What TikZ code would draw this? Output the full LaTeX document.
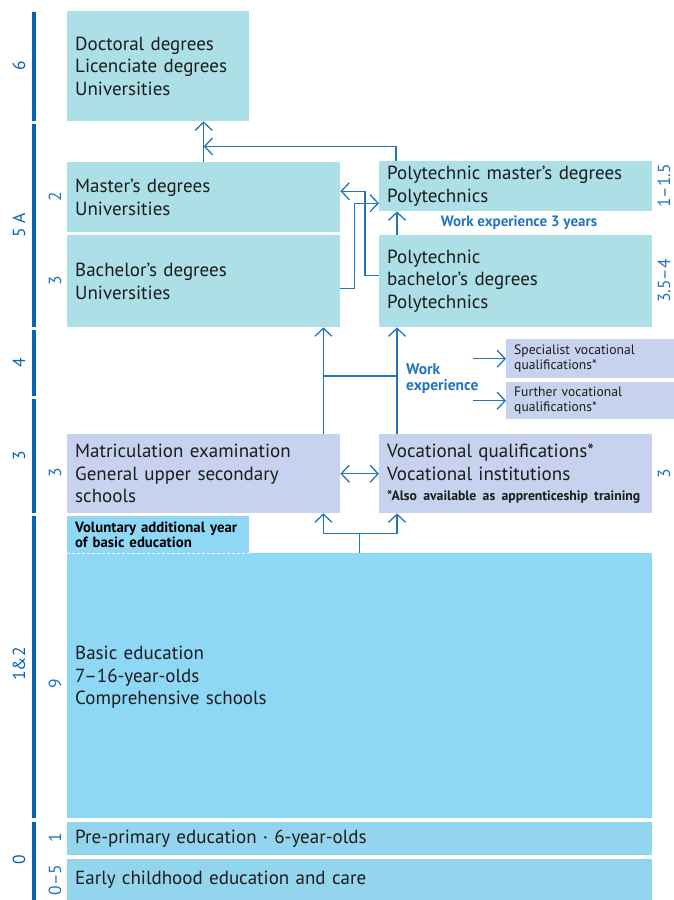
\documentclass[tikz,border=0pt]{standalone}
\usepackage{fontspec}
\setmainfont{PT Sans}
\usepackage{xcolor}
\usetikzlibrary{positioning,arrows.meta}

\definecolor{unicol}{HTML}{ADDFE6}
\definecolor{gencol}{HTML}{C7D2EE}
\definecolor{basiccol}{HTML}{8ED8F6}
\definecolor{earlycol}{HTML}{93D5EC}
\definecolor{linecol}{HTML}{2473BD}
\definecolor{barcol}{HTML}{0B63B0}
\definecolor{txtcol}{HTML}{1C1C1C}

\tikzset{
  box/.style={anchor=north west, inner xsep=8pt, inner ysep=0pt, align=left,
    text=txtcol, font=\fontsize{19}{22.5}\selectfont},
  smallbox/.style={box, fill=gencol, font=\fontsize{13.6}{14.5}\selectfont},
  lvl/.style={rotate=90, inner sep=0pt, text=barcol, font=\fontsize{17.5}{20}\selectfont},
  dur/.style={rotate=90, inner sep=0pt, text=linecol, font=\fontsize{17.5}{20}\selectfont},
  note/.style={text=linecol, align=left, font=\fontsize{15}{16}\selectfont\bfseries},
  link/.style={draw=linecol, line width=1.3pt},
  arr/.style={link, -{Straight Barb[length=8pt,width=17pt]}},
  arrtwo/.style={link, {Straight Barb[length=8pt,width=17pt]}-{Straight Barb[length=8pt,width=17pt]}}
}

\begin{document}
\begin{tikzpicture}[x=1pt, y=-1pt]
        \useasboundingbox (0,0) rectangle (674,900);

        % level bars
        \fill[barcol] (32,12) rectangle (36,121);
        \fill[barcol] (32,124) rectangle (36,327);
        \fill[barcol] (32,330) rectangle (36,396);
        \fill[barcol] (32,399) rectangle (36,513);
        \fill[barcol] (32,516) rectangle (36,818);
        \fill[barcol] (32,822) rectangle (36,900);

        \node [lvl] (lvlsix) at (19,66) {6};
        \node [lvl] (lvlfive) at (19,225) {5 A};
        \node [lvl] (lvlfour) at (19,363) {4};
        \node [lvl] (lvlthree) at (19,456) {3};
        \node [lvl] (lvlone) at (19,664) {1\&2};
        \node [lvl] (lvlzero) at (19,860) {0};

        % boxes
        \node [box, fill=unicol, text width=166pt, minimum height=110pt] (doctoral) at (67,11) {Doctoral degrees\\Licenciate degrees\\Universities};
        \node [box, fill=unicol, text width=257pt, minimum height=70pt] (master) at (67,162) {Master’s degrees\\Universities};
        \node [box, fill=unicol, text width=257pt, minimum height=92pt] (bachelor) at (67,235) {Bachelor’s degrees\\Universities};
        \node [box, fill=unicol, text width=257pt, minimum height=50pt] (pmaster) at (379,161) {Polytechnic master’s degrees\\Polytechnics};
        \node [box, fill=unicol, text width=257pt, minimum height=92pt] (pbachelor) at (379,235) {Polytechnic\\bachelor’s degrees\\Polytechnics};
        \node [smallbox, text width=152pt, minimum height=39pt] (spec) at (506,339) {Specialist vocational\\qualifications*};
        \node [smallbox, text width=152pt, minimum height=37pt] (further) at (506,382) {Further vocational\\qualifications*};
        \node [box, fill=gencol, text width=257pt, minimum height=79pt] (matric) at (67,434) {Matriculation examination\\General upper secondary\\schools};
        \node [box, fill=gencol, text width=257pt, minimum height=79pt] (voc) at (379,434) {Vocational qualifications*\\Vocational institutions\\[-2pt]{\fontsize{13.7}{14}\selectfont\bfseries *Also available as apprenticeship training}};
        \node [box, fill=basiccol, text width=569pt, minimum height=265pt] (basic) at (67,553) {Basic education\\7–16-year-olds\\Comprehensive schools\\[-2.5pt]\mbox{}};
        \node [box, fill=basiccol, text width=166pt, minimum height=37pt, font=\fontsize{14.8}{14.5}\selectfont\bfseries, text=black] (voluntary) at (67,516) {Voluntary additional year\\of basic education};
        \draw [white, line width=1pt, dash pattern=on 3pt off 2pt] (voluntary.south west) -- (voluntary.south east);
        \node [box, fill=earlycol, text width=569pt, minimum height=33pt] (preprimary) at (67,822) {Pre-primary education · 6-year-olds};
        \node [box, fill=earlycol, text width=569pt, minimum height=41pt] (early) at (67,859) {Early childhood education and care};

        % durations
        \node [dur] (durmaster) at (55,197) {2};
        \node [dur] (durbachelor) at (55,281) {3};
        \node [dur] (durmatric) at (55,473) {3};
        \node [dur] (durbasic) at (55,684) {9};
        \node [dur] (durpre) at (55,838) {1};
        \node [dur] (durearly) at (55,880) {0–5};
        \node [dur] (durpmaster) at (664,186) {1–1.5};
        \node [dur] (durpbachelor) at (664,281) {3.5–4};
        \node [dur] (durvoc) at (664,474) {3};

        \node [note] (workthree) at (519,223) {Work experience 3 years};
        \node [note, anchor=west, inner sep=0pt, font=\fontsize{15.5}{16}\selectfont\bfseries] (work) at (406,379) {Work\\experience};

        % connectors
        \draw [arr] (master.north) -- (master.north |- doctoral.south);
        \draw [arr] ([xshift=17pt]pmaster.north west) |- ([yshift=-25pt]doctoral.south -| master.north);
        \draw [arr] ([xshift=18pt]pbachelor.north west) -- ([xshift=18pt]pmaster.south west);
        \draw [arr] ([yshift=-7pt]bachelor.east) -- ++(14,0) |- ([yshift=-17pt]pmaster.west);
        \draw [arr] ([yshift=6pt]pbachelor.west) -- ++(-14,0) |- ([yshift=6pt]master.east);

        \draw [arr] ([xshift=-17pt]matric.north east) -- ([xshift=-17pt]bachelor.south east);
        \draw [arr] ([xshift=18pt]voc.north west) -- ([xshift=18pt]pbachelor.south west);
        \draw [link] ([xshift=-17pt,yshift=58pt]matric.north east) -- ([xshift=18pt,yshift=58pt]voc.north west);
        \draw [arr] ([xshift=-33pt]spec.west) -- (spec.west);
        \draw [arr] ([xshift=-33pt]further.west) -- (further.west);

        \draw [arrtwo] (matric.east) -- (voc.west);
        \draw [arr] (basic.north) |- ([xshift=-17pt,yshift=-20pt]matric.south east) -- ([xshift=-17pt]matric.south east);
        \draw [arr] (basic.north) |- ([xshift=18pt,yshift=-20pt]voc.south west) -- ([xshift=18pt]voc.south west);
\end{tikzpicture}
\end{document}
